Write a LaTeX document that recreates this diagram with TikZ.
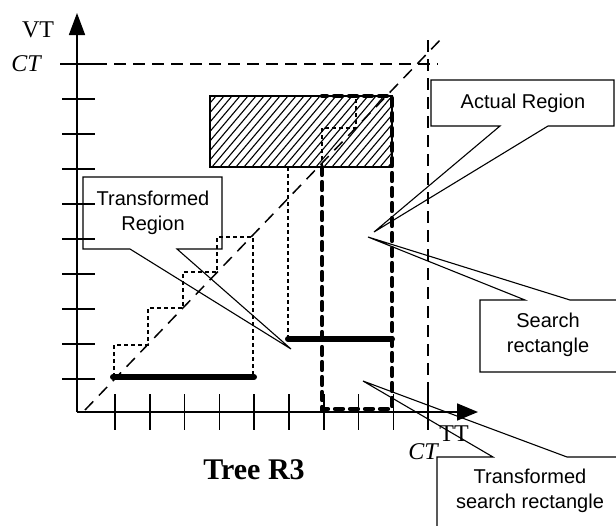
\documentclass[tikz,border=0pt]{standalone}
\usepackage{fontspec}
\setmainfont{Liberation Serif}
\newfontfamily\labelsans{Liberation Sans}
\usetikzlibrary{arrows.meta}
\begin{document}
\begin{tikzpicture}[x=1pt,y=-1pt,
  axis/.style={line width=1.8pt},
  tickline/.style={line width=1.6pt},
  refline/.style={line width=1.4pt, dash pattern=on 12pt off 7pt},
  diagline/.style={line width=1.5pt, dash pattern=on 12pt off 8pt},
  stair/.style={line width=1.4pt, dash pattern=on 4pt off 3pt},
  searchrect/.style={line width=4.2pt, dash pattern=on 8pt off 7pt, line cap=round},
  bar/.style={line width=6pt, line cap=round},
  callout/.style={line width=1.1pt, line join=miter},
  hatch/.style={line width=1.1pt},
  sanslabel/.style={font=\labelsans\fontsize{20}{25}\selectfont, align=center, inner sep=0pt},
  serlabel/.style={font=\fontsize{24}{28}\selectfont, inner sep=0pt},
  ]
\useasboundingbox (0,0) rectangle (616,525);
\clip (0,0) rectangle (616,525);
% axes
\coordinate (O) at (77,412);
\coordinate (ytip) at (77,13);
\coordinate (xtip) at (478,412);
\draw[axis,-{Triangle[length=22pt,width=16pt]}] (O) -- (ytip);
\draw[axis,-{Triangle[length=21pt,width=17pt]}] (O) -- (xtip);
% ticks
\foreach \y in {99,134,169,204,239,274,309,344,379}
  \draw[tickline] (62,\y) -- (95,\y);
\draw[tickline] (60,64) -- (95,64);
\foreach \i in {0,...,9}
  \draw[tickline] ({115+34.8*\i},394) -- ({115+34.8*\i},430);
% reference lines
\draw[refline] (95,64) -- (438,64);
\draw[refline] (428,40) -- (428,410);
\draw[diagline] (85,410) -- (443,37);
% actual region (hatched)
\begin{scope}
  \clip (210,96) rectangle (392,167);
  \foreach \k in {0,...,34}
    \draw[hatch] ({140+8*\k},167) -- ++(60,-71);
\end{scope}
\draw[line width=1.8pt] (210,96) rectangle (392,167);
% transformed region staircase
\draw[stair] (322,167) -- (322,128) -- (356,128) -- (356,96);
\draw[stair] (114,377) -- (114,345) -- (148,345) -- (148,308) -- (183,308) -- (183,272)
  -- (217,272) -- (217,237) -- (253,237) -- (253,377);
\draw[stair] (288,167) -- (288,339);
\draw[bar] (113,377) -- (254,377);
\draw[bar] (288,339) -- (392,339);
% search rectangle
\draw[searchrect] (322,167) -- (322,409) -- (392,409) -- (392,96) -- (322,96);
% callouts
\coordinate (tipA) at (291,349);
\coordinate (tipB) at (374,232);
\coordinate (tipC) at (368,237);
\coordinate (tipD) at (363,381);
\draw[callout] (83,177) -- (222,177) -- (222,249) -- (177,249) -- (tipA) -- (130,249) -- (83,249) -- cycle;
\node[sanslabel] (trlabel) at (153,213) {Transformed\\Region};
\draw[callout] (431,80) -- (614,80) -- (614,126) -- (548,126) -- (tipB) -- (500,126) -- (431,126) -- cycle;
\node[sanslabel] (arlabel) at (523,103) {Actual Region};
\draw[callout] (630,300) -- (570,300) -- (tipC) -- (525,300) -- (480,300) -- (480,372) -- (630,372);
\node[sanslabel] (srlabel) at (548,335) {Search\\rectangle};
\draw[callout] (437,540) -- (437,457) -- (493,457) -- (tipD) -- (567,457) -- (630,457);
\node[sanslabel] (tsrlabel) at (530,491) {Transformed\\search rectangle};
% axis labels
\node[serlabel] (vt) at (38,30) {VT};
\node[serlabel] (cty) at (26,64) {\itshape CT};
\node[serlabel] (ctx) at (423,452) {\itshape CT};
\node[serlabel] (tt) at (454,434) {TT};
\node[font=\bfseries\fontsize{30}{34}\selectfont, inner sep=0pt] (title) at (254,470) {Tree R3};
\end{tikzpicture}
\end{document}
